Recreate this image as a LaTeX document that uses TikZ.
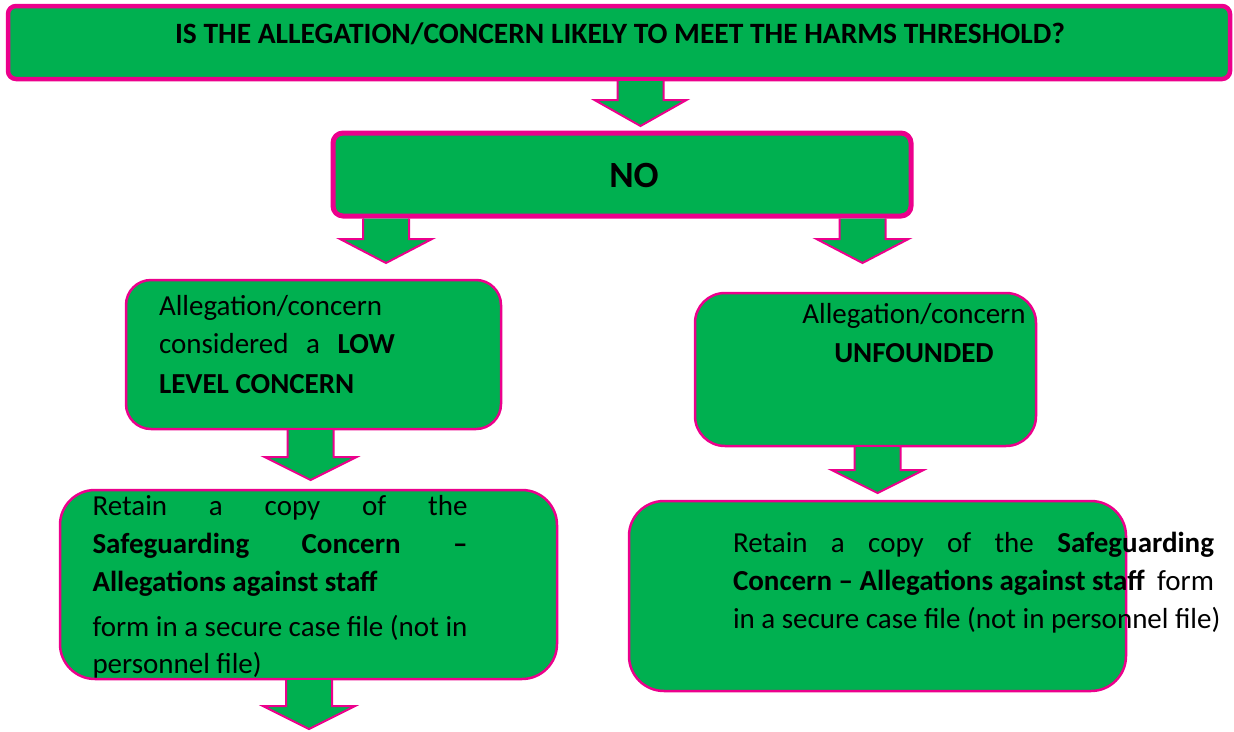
\documentclass[tikz,border=0pt]{standalone}
\usepackage{fontspec}
\setmainfont{Carlito}
\definecolor{boxgreen}{HTML}{00B050}
\definecolor{boxpink}{HTML}{EC008C}
\tikzset{
  gbox/.style={fill=boxgreen, draw=boxpink, line width=2.5pt},
  thickbox/.style={gbox, line width=4.5pt},
  txt/.style={inner sep=0pt, outer sep=0pt, anchor=base west, font=\fontsize{29}{38}\selectfont},
  ctxt/.style={txt, anchor=base},
  arrfill/.style={fill=boxgreen},
  arrline/.style={draw=boxpink, line width=2pt, line join=miter}
}
% block arrow: #1 centre x, #2 top y, #3 head top y, #4 tip y, #5 name
\newcommand{\blockarrow}[5]{%
  \fill[arrfill] (#1-23,#2) -- (#1-23,#3) -- (#1-46,#3) -- (#1,#4) -- (#1+46,#3) -- (#1+23,#3) -- (#1+23,#2) -- cycle;
  \draw[arrline] (#1-23,#2) coordinate (#5s) -- (#1-23,#3) -- (#1-46,#3) -- (#1,#4) coordinate (#5t) -- (#1+46,#3) -- (#1+23,#3) -- (#1+23,#2);
}
\begin{document}
\begin{tikzpicture}[x=1pt,y=-1pt]
\useasboundingbox (0,0) rectangle (1234,731);
% boxes
\draw[thickbox, rounded corners=8pt] (8,6) rectangle (1230,79);
\node[inner sep=0pt] (top) at (619,42.5) {};
\draw[thickbox, line width=5pt, rounded corners=10pt] (333,133) rectangle (911,216);
\node[inner sep=0pt] (no) at (622,174.5) {};
\draw[gbox, rounded corners=25pt] (126,280) rectangle (501,429);
\node[inner sep=0pt] (low) at (313.5,354.5) {};
\draw[gbox, rounded corners=30pt] (695,293) rectangle (1036,446);
\node[inner sep=0pt] (unf) at (865.5,369.5) {};
\draw[gbox, rounded corners=35pt] (60,490) rectangle (557,679);
\node[inner sep=0pt] (retl) at (308.5,584.5) {};
\draw[gbox, rounded corners=35pt] (629,501) rectangle (1126,691);
\node[inner sep=0pt] (retr) at (877.5,596) {};
% arrows
\blockarrow{640.5}{81}{100}{126}{a1}
\blockarrow{386}{218.5}{239}{263}{a2}
\blockarrow{862.5}{218.5}{239}{263}{a3}
\blockarrow{310.5}{430}{457}{480}{a4}
\blockarrow{877.5}{447}{470}{493}{a5}
\blockarrow{309}{680}{706}{729}{a6}
% texts
\node[ctxt, font=\bfseries\fontsize{29.5}{32}\selectfont] (ttop) at (620,43) {IS THE ALLEGATION/CONCERN LIKELY TO MEET THE HARMS THRESHOLD?};
\node[ctxt, font=\bfseries\fontsize{37}{40}\selectfont] (tno) at (634,187) {NO};
\node[txt] (l1) at (159,315) {Allegation/concern};
\node[txt] (l2) at (159,353) {\hbox to 236pt{considered\hfill a\hfill \textbf{LOW}}};
\node[txt] (l3) at (159,393) {\textbf{LEVEL CONCERN}};
\node[ctxt] (u1) at (914,323) {Allegation/concern};
\node[ctxt] (u2) at (914,362) {\textbf{UNFOUNDED}};
\node[txt] (r1) at (92.5,515) {\hbox to 375pt{Retain\hfill a\hfill copy\hfill of\hfill the}};
\node[txt] (r2) at (92.5,553) {\hbox to 375pt{\bfseries Safeguarding\hfill Concern\hfill –}};
\node[txt] (r3) at (92.5,591) {\textbf{Allegations against staff}};
\node[txt] (r4) at (92.5,636) {form in a secure case file (not in};
\node[txt] (r5) at (92.5,673) {personnel file)};
\node[txt] (s1) at (733,552) {\hbox to 481pt{Retain\hfill a\hfill copy\hfill of\hfill the\hfill \textbf{Safeguarding}}};
\node[txt] (s2) at (733,590) {\hbox to 481pt{\textbf{Concern – Allegations against staff}\hfill form}};
\node[txt] (s3) at (733,628) {in a secure case file (not in personnel file)};
\end{tikzpicture}
\end{document}
